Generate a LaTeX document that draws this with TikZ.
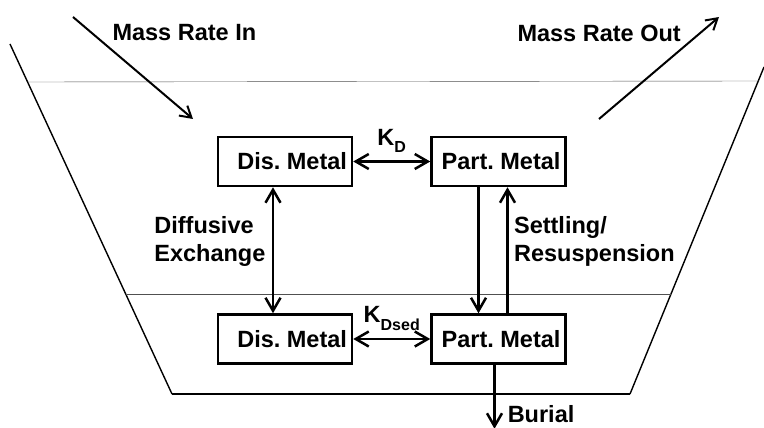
\documentclass[tikz,border=0pt]{standalone}
\usepackage{fontspec}
\setmainfont{Liberation Sans}
\usepackage{tikz}
\usetikzlibrary{arrows.meta,positioning,calc}
\definecolor{waterline}{RGB}{80,80,80}

\begin{document}
\begin{tikzpicture}[x=1pt,y=-1pt,
    font=\fontsize{23.5}{28}\selectfont\bfseries\frenchspacing,
    metalbox/.style={draw,line width=2.5pt,text width=124pt,align=flush right,inner xsep=5pt,minimum height=49pt},
    flow/.style={line width=2.5pt,-{Straight Barb[length=13pt,width=15pt]}},
    twoway/.style={line width=2.5pt,{Straight Barb[length=13pt,width=15pt]}-{Straight Barb[length=13pt,width=15pt]}},
    massflow/.style={line width=2pt,-{Straight Barb[length=11pt,width=13pt]}}]
    \useasboundingbox (0,0) rectangle (764,428);
    % basin outline
    \coordinate (topleft) at (10,44);
    \coordinate (botleft) at (172,394);
    \coordinate (botright) at (630,394);
    \coordinate (topright) at (764,67);
    \draw[line width=1.4pt] (topleft) -- (botleft);
    \draw[line width=2.2pt] (botleft) -- (botright);
    \draw[line width=1.4pt] (botright) -- (topright);
    \draw[waterline] (28,82) -- (759,81);
    \draw[waterline] (126,294) -- (671,294);
    % loads
    \coordinate (infrom) at (73,17);
    \coordinate (into) at (193,119);
    \coordinate (outfrom) at (599,119);
    \coordinate (outto) at (719,17);
    \draw[massflow] (infrom) -- (into);
    \draw[massflow] (outfrom) -- (outto);
    \node[anchor=west] (massin) at (109,33) {Mass Rate In};
    \node[anchor=west] (massout) at (514,33) {Mass Rate Out};
    % compartments
    \node[metalbox] (distop) at (285,161.5) {Dis. Metal};
    \node[metalbox,right=77pt of distop] (parttop) {Part. Metal};
    \node[metalbox,below=126pt of distop] (disbot) {Dis. Metal};
    \node[metalbox,below=126pt of parttop] (partbot) {Part. Metal};
    % exchanges
    \draw[twoway] (distop) -- node[above=8pt,inner sep=0pt] {K\raisebox{-7pt}{\fontsize{16}{16}\selectfont D}} (parttop);
    \draw[twoway] (disbot) -- node[above=7pt,inner sep=0pt] {K\raisebox{-8pt}{\fontsize{16}{16}\selectfont Dsed}} (partbot);
    \draw[twoway] ([xshift=-12pt]distop.south) -- node[pos=0.43,left=3pt,align=left] {Diffusive\\Exchange} ([xshift=-12pt]disbot.north);
    \draw[flow] ([xshift=-20pt]parttop.south) -- ([xshift=-20pt]partbot.north);
    \draw[flow] ([xshift=9pt]partbot.north) -- node[pos=0.57,right=2pt,align=left] {Settling/\\Resuspension} ([xshift=9pt]parttop.south);
    \draw[flow] ([xshift=-4pt]partbot.south) -- ++(0,64) node[anchor=south west,xshift=12pt,yshift=5pt,inner sep=0pt] (burial) {Burial};
\end{tikzpicture}
\end{document}
